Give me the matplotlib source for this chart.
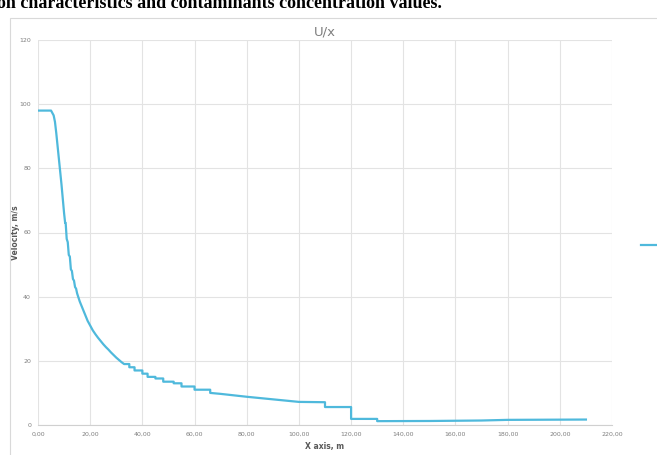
import matplotlib.pyplot as plt
from matplotlib.patches import Rectangle
from matplotlib.lines import Line2D

# distance along axis, m (repeated x = vertical step in the data)
x_m = [0, 5.0, 6.0, 6.5, 7.0, 8.0, 9.0, 10.0, 10.4, 10.6, 11.0, 11.4, 11.8, 12.2,
       12.6, 13.0, 13.4, 13.8, 14.2, 14.6, 15.0, 15.4, 16.0, 17.0, 18.0, 19.0, 20.0,
       21.0, 22.0, 23.0, 24.0, 25.0, 26.0, 27.0, 28.0, 29.0, 30.0, 31.0, 32.0, 33.0,
       35.0, 35.0, 37.0, 37.0, 40.0, 40.0, 42.0, 42.0, 45.0, 45.0, 48.0, 48.0, 52.0,
       52.0, 55.0, 55.0, 60.0, 60.0, 66.0, 66.0, 70.0, 80.0, 90.0, 100.0, 110.0,
       110.0, 120.0, 120.0, 130.0, 130.0, 150.0, 170.0, 175.0, 180.0, 210.0]
# velocity, m/s
u_ms = [98, 98, 96.5, 94.5, 91, 83, 75, 66, 63, 63, 58, 57, 53, 52.5,
        48.5, 48, 45.5, 45, 43, 42.5, 41, 40, 38.5, 36.5, 34.5, 32.5, 31,
        29.5, 28.3, 27.2, 26.2, 25.2, 24.3, 23.5, 22.6, 21.8, 21, 20.3, 19.6, 19,
        19, 18, 18, 17, 17, 16, 16, 15, 15, 14.5, 14.5, 13.5, 13.5,
        13, 13, 12, 12, 11, 11, 10, 9.7, 8.8, 8.0, 7.2, 7.1,
        5.6, 5.6, 1.9, 1.9, 1.2, 1.25, 1.4, 1.5, 1.6, 1.7]

x_ticks = list(range(0, 221, 20))
y_ticks = list(range(0, 121, 20))

fig = plt.figure(figsize=(6.57, 4.55), dpi=100)
fig.patch.set_facecolor('white')

# chart area frame
fig.patches.append(Rectangle((10 / 657, -0.01), 1.0, 1 - 18 / 455 + 0.01,
                             transform=fig.transFigure, fill=False,
                             edgecolor='#d9d9d9', linewidth=0.8))

# caption from the page, cut off at the top as in the source
fig.text(-0.004, 1 - 4 / 455, 'on characteristics and contaminants concentration values.',
         fontsize=13, fontweight='bold', family='Liberation Serif',
         ha='left', va='center', color='black')

ax = fig.add_axes([38 / 657, 1 - 425 / 455, (612 - 38) / 657, (425 - 40) / 455])
ax.plot(x_m, u_ms, color='#4fb9dc', linewidth=1.6)

ax.set_xlim(0, 220)
ax.set_ylim(0, 120)
ax.set_xticks(x_ticks)
ax.set_xticklabels([f'{v},00' for v in x_ticks])
ax.set_yticks(y_ticks)
ax.set_yticklabels([str(v) for v in y_ticks])
ax.tick_params(length=0, labelsize=4.5, labelcolor='#7f7f7f', pad=5)
ax.grid(True, color='#e3e3e3', linewidth=0.8)
ax.set_axisbelow(True)
for side in ['top', 'right', 'left']:
    ax.spines[side].set_visible(False)
ax.spines['bottom'].set_color('#d0d0d0')

ax.set_title('U/x', fontsize=9.5, color='#7f7f7f', pad=3)
ax.set_xlabel('X axis, m', fontsize=5.5, color='#595959', fontweight='bold', labelpad=4)
ax.set_ylabel('Velocity, m/s', fontsize=5.5, color='#595959', fontweight='bold')
ax.yaxis.set_label_coords(-0.031, 0.5)

# legend marker, cut off at the right edge
fig.lines.append(Line2D([641 / 657, 1.0], [1 - 245 / 455, 1 - 245 / 455],
                        transform=fig.transFigure, color='#4fb9dc', linewidth=1.6))

fig.savefig('out.png', dpi=100)
